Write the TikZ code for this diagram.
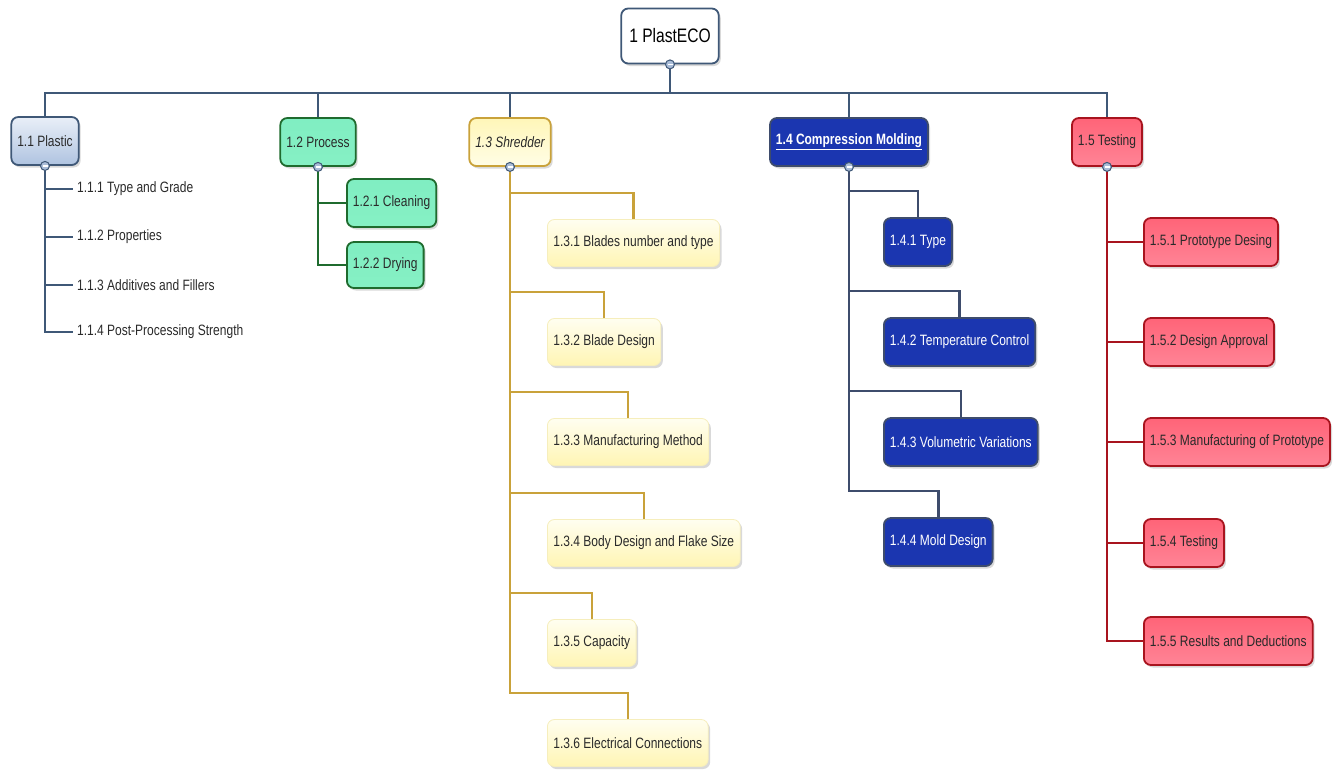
\documentclass[tikz,border=0pt]{standalone}
\usepackage{fontspec}
\setmainfont{Liberation Sans}[FakeStretch=0.8]
\usetikzlibrary{shadows}
\definecolor{slateln}{HTML}{3F5877}
\definecolor{greenln}{HTML}{1F6B2E}
\definecolor{goldln}{HTML}{C9A23A}
\definecolor{redln}{HTML}{A8141E}
\definecolor{navyln}{HTML}{3E4C6C}
\definecolor{navyfill}{HTML}{1B36B0}
\definecolor{txtgrey}{HTML}{2A2A2A}
\definecolor{blueT}{HTML}{E9EFF8}
\definecolor{blueB}{HTML}{AFC3E0}
\definecolor{greenT}{HTML}{80EEC2}
\definecolor{greenM}{HTML}{DDFDF0}
\definecolor{greenB}{HTML}{86F0C4}
\definecolor{goldT}{HTML}{FFF6B8}
\definecolor{goldB}{HTML}{FFFDE6}
\definecolor{yelD}{HTML}{F6EEBC}
\definecolor{yelT}{HTML}{FFFEF0}
\definecolor{yelB}{HTML}{FFF5B4}
\definecolor{redT}{HTML}{FF6478}
\definecolor{redM}{HTML}{FFEEF0}
\definecolor{redB}{HTML}{FF8496}
\definecolor{markfill}{HTML}{A9BCD8}
\begin{document}
\begin{tikzpicture}[x=1pt,y=-1pt,
  basebox/.style={rounded corners=7pt, line width=1.8pt, minimum height=48pt, inner xsep=6pt,
    font=\fontsize{15}{17}\selectfont, text=txtgrey,
    drop shadow={shadow xshift=2pt,shadow yshift=-2.5pt,opacity=0.3}},
  rootbox/.style={basebox, draw=slateln, fill=white, minimum height=55pt, inner xsep=8pt,
    font=\fontsize{19.5}{22}\selectfont, text=black},
  bluebox/.style={basebox, draw=slateln, top color=blueT, bottom color=blueB},
  greenbox/.style={basebox, draw=greenln, top color=greenT, middle color=greenM, bottom color=greenB},
  goldbox/.style={basebox, draw=goldln, top color=goldT, bottom color=goldB, font=\fontsize{15}{17}\selectfont\itshape},
  yelbox/.style={basebox, line width=0.8pt, draw=yelD, top color=yelT, bottom color=yelB, minimum height=47pt},
  navybox/.style={basebox, draw=navyln, fill=navyfill, text=white},
  redbox/.style={basebox, draw=redln, top color=redT, middle color=redM, bottom color=redB},
  leaf/.style={inner sep=2pt, font=\fontsize{15}{17}\selectfont, text=txtgrey},
  conn/.style={line width=2.5pt},
  collapse/.style={circle, minimum size=9pt, inner sep=0pt, fill=markfill, draw=slateln, line width=1pt,
    path picture={\draw[white,line width=1.3pt] ([xshift=2pt]path picture bounding box.west) -- ([xshift=-2pt]path picture bounding box.east);}}
]
\useasboundingbox (0,0) rectangle (1334,769);

% root and level 1
\node[rootbox] (root) at (670,36) {1 PlastECO};
\node[bluebox] (p11) at (45,141) {1.1 Plastic};
\node[greenbox] (p12) at (318,142) {1.2 Process};
\node[goldbox] (p13) at (510,142) {1.3 Shredder};
\node[navybox, font=\fontsize{15}{17}\selectfont\bfseries] (p14) at (849,142) {\underline{1.4 Compression Molding}};
\node[redbox] (p15) at (1107,142) {1.5 Testing};

% 1.1 children
\node[leaf, anchor=west] (c111) at (75,189) {1.1.1 Type and Grade};
\node[leaf, anchor=west] (c112) at (75,237) {1.1.2 Properties};
\node[leaf, anchor=west] (c113) at (75,285) {1.1.3 Additives and Fillers};
\node[leaf, anchor=west] (c114) at (75,332) {1.1.4 Post-Processing Strength};

% 1.2 children
\node[greenbox, anchor=west] (c121) at (346,203) {1.2.1 Cleaning};
\node[greenbox, anchor=west, minimum height=46pt] (c122) at (346,265) {1.2.2 Drying};

% 1.3 children
\node[yelbox, anchor=west] (c131) at (547,243) {1.3.1 Blades number and type};
\node[yelbox, anchor=west] (c132) at (547,342) {1.3.2 Blade Design};
\node[yelbox, anchor=west] (c133) at (547,442) {1.3.3 Manufacturing Method};
\node[yelbox, anchor=west] (c134) at (547,543) {1.3.4 Body Design and Flake Size};
\node[yelbox, anchor=west] (c135) at (547,643) {1.3.5 Capacity};
\node[yelbox, anchor=west] (c136) at (547,743) {1.3.6 Electrical Connections};

% 1.4 children
\node[navybox, anchor=west] (c141) at (883,242) {1.4.1 Type};
\node[navybox, anchor=west] (c142) at (883,342) {1.4.2 Temperature Control};
\node[navybox, anchor=west] (c143) at (883,442) {1.4.3 Volumetric Variations};
\node[navybox, anchor=west] (c144) at (883,542) {1.4.4 Mold Design};

% 1.5 children
\node[redbox, anchor=west] (c151) at (1143,242) {1.5.1 Prototype Desing};
\node[redbox, anchor=west] (c152) at (1143,342) {1.5.2 Design Approval};
\node[redbox, anchor=west] (c153) at (1143,442) {1.5.3 Manufacturing of Prototype};
\node[redbox, anchor=west] (c154) at (1143,543) {1.5.4 Testing};
\node[redbox, anchor=west] (c155) at (1143,641) {1.5.5 Results and Deductions};

% connectors: root bus
\coordinate (bus) at (670,93);
\draw[conn, slateln] (root.south) -- (bus);
\foreach \n in {p11,p12,p13,p14,p15} {\draw[conn, slateln] (bus) -| (\n.north);}

% 1.1
\foreach \n in {c111,c112,c113,c114} {\draw[conn, slateln] (p11.south) |- ([xshift=-2pt]\n.west);}
% 1.2
\foreach \n in {c121,c122} {\draw[conn, greenln] (p12.south) |- (\n.west);}
% 1.3
\foreach \n in {c131,c132,c133,c134,c135,c136} {\draw[conn, goldln] (\n.north) -- ++(0,-26) -| (p13.south);}
% 1.4
\foreach \n in {c141,c142,c143,c144} {\draw[conn, navyln] (\n.north) -- ++(0,-26) -| (p14.south);}
% 1.5
\foreach \n in {c151,c152,c153,c154,c155} {\draw[conn, redln] (p15.south) |- (\n.west);}

% collapse markers
\node[collapse] (m0) at (root.south) {};
\node[collapse] (m1) at (p11.south) {};
\node[collapse] (m2) at (p12.south) {};
\node[collapse] (m3) at (p13.south) {};
\node[collapse] (m4) at (p14.south) {};
\node[collapse] (m5) at (p15.south) {};
\end{tikzpicture}
\end{document}
